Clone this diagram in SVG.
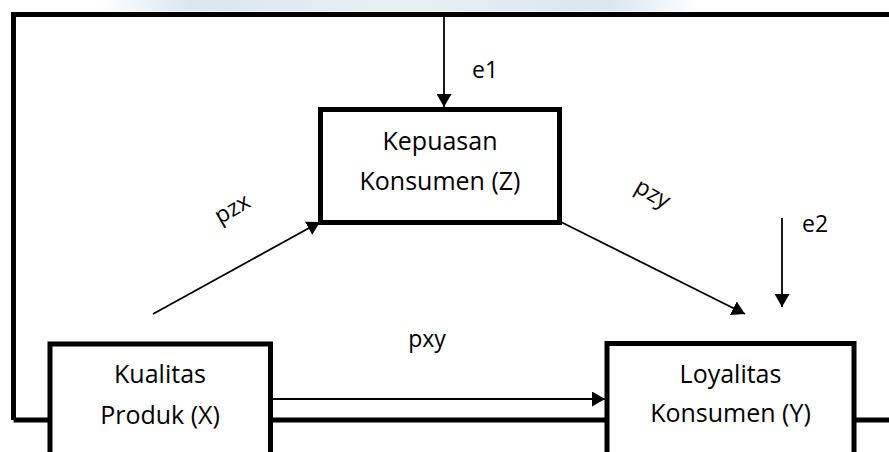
<svg xmlns="http://www.w3.org/2000/svg" width="889" height="452" viewBox="0 0 889 452">
  <defs>
    <marker id="ah" markerUnits="userSpaceOnUse" markerWidth="14" markerHeight="15" refX="13" refY="7.5" orient="auto">
      <path d="M0,0 L13,7.5 L0,15 Z" fill="#000"/>
    </marker>
    <linearGradient id="wm" x1="0" y1="0" x2="1" y2="0">
      <stop offset="0" stop-color="#cfe0ec" stop-opacity="0"/>
      <stop offset="0.15" stop-color="#cfe0ec" stop-opacity="0.8"/>
      <stop offset="0.5" stop-color="#e6eef0" stop-opacity="0.9"/>
      <stop offset="0.85" stop-color="#cfe0ec" stop-opacity="0.8"/>
      <stop offset="1" stop-color="#cfe0ec" stop-opacity="0"/>
    </linearGradient>
  </defs>
  <style>
    .frame { fill: none; stroke: #000; stroke-width: 5; }
    .box { fill: #fff; stroke: #000; stroke-width: 5; }
    .conn { fill: none; stroke: #000; stroke-width: 1.8; marker-end: url(#ah); }
    .t { font-family: "Open Sans", "Noto Sans", sans-serif; font-size: 25px; fill: #000; text-anchor: middle; }
    .lbl { font-family: "Open Sans", "Noto Sans", sans-serif; font-size: 23px; fill: #000; }
  </style>
  <rect width="889" height="452" fill="#fff"/>
  <rect x="100" y="0" width="600" height="11" fill="url(#wm)"/>

  <g id="frame">
    <path class="frame" d="M13.5,420 L13.5,14.5 L889,14.5" stroke="#2b2b2b"/>
    <line class="frame" x1="13.5" y1="420" x2="889" y2="420"/>
    <line x1="843" y1="14.5" x2="889" y2="14.5" stroke="#000" stroke-width="5"/>
  </g>

  <g id="connectors">
    <line class="conn" x1="444" y1="17" x2="444" y2="107"/>
    <line class="conn" x1="153" y1="314" x2="320" y2="222"/>
    <line class="conn" x1="561" y1="222" x2="745" y2="314"/>
    <line class="conn" x1="782" y1="218" x2="782" y2="307"/>
    <line class="conn" x1="273" y1="399" x2="605" y2="399"/>
  </g>

  <g id="node-z">
    <rect class="box" x="320.5" y="109.5" width="239" height="113"/>
    <text class="t" x="440" y="150">Kepuasan</text>
    <text class="t" x="440" y="190">Konsumen (Z)</text>
  </g>
  <g id="node-x">
    <rect class="box" x="50" y="344" width="220.5" height="130"/>
    <text class="t" x="160" y="383">Kualitas</text>
    <text class="t" x="160" y="424">Produk (X)</text>
  </g>
  <g id="node-y">
    <rect class="box" x="607" y="343.5" width="247" height="130"/>
    <text class="t" x="730.5" y="383">Loyalitas</text>
    <text class="t" x="730.5" y="422">Konsumen (Y)</text>
  </g>

  <g id="labels">
    <text class="lbl" x="472" y="78">e1</text>
    <text class="lbl" x="802" y="232">e2</text>
    <text class="lbl" x="427" y="347" text-anchor="middle">pxy</text>
    <text class="lbl" transform="translate(233,210) rotate(-30)" x="0" y="6" text-anchor="middle">pzx</text>
    <text class="lbl" transform="translate(652,195) rotate(30)" x="0" y="6" text-anchor="middle">pzy</text>
  </g>
</svg>
